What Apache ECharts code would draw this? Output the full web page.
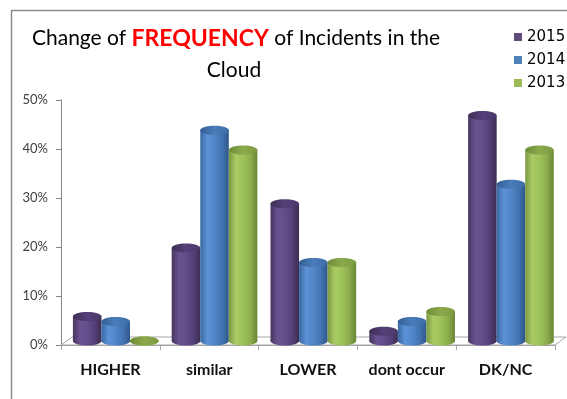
<!DOCTYPE html>
<html>
<head>
<meta charset="utf-8">
<script src="https://cdn.jsdelivr.net/npm/echarts@6/dist/echarts.min.js"></script>
<style>
  html, body { margin: 0; padding: 0; background: #fff; }
  #chart { width: 567px; height: 399px; }
</style>
</head>
<body>
<div id="chart"></div>
<script>
// Share of answers per category (percent)
const categories = ['HIGHER', 'similar', 'LOWER', 'dont occur', 'DK/NC'];
const years = ['2015', '2014', '2013'];
const values2015 = [5, 19, 28, 2, 46];
const values2014 = [4, 43, 16, 4, 32];
const values2013 = [0, 39, 16, 6, 39];
const yTicks = [0, 10, 20, 30, 40, 50];

const seriesValues = [values2015, values2014, values2013];

// Flat colour (legend) plus shading stops for the cylinder body and cap
const palette = [
  { flat: '#604A7B',
    body: ['#47355E', '#6A5190', '#664D8A', '#55407A', '#3C2C50'],
    cap:  ['#3E2E54', '#55407A', '#4A3869'] },
  { flat: '#4F81BD',
    body: ['#3A67A2', '#5C92D6', '#5286C8', '#4374B3', '#30588A'],
    cap:  ['#345E93', '#4A7DBB', '#3D6CA6'] },
  { flat: '#9BBB59',
    body: ['#7A9842', '#A8CC63', '#9EC25A', '#8CAF4D', '#6A8536'],
    cap:  ['#6E8A39', '#8BAA4B', '#7D9A42'] }
];

function hGrad(stops) {
  const n = stops.length - 1;
  return new echarts.graphic.LinearGradient(0, 0, 1, 0,
    stops.map((c, i) => ({ offset: i / n, color: c })));
}

// Oblique depth of the floor (px)
const DEPTH_X = 11, DEPTH_Y = 8;

function cylinderRenderer(k) {
  return function (params, api) {
    const cat = api.value(0);
    const val = api.value(1);
    const bandW = api.size([1, 0])[0];
    const base = api.coord([cat, 0]);
    const top = api.coord([cat, val]);
    const w = bandW * 0.289;
    const cx = base[0] + bandW * (0.054 + (k - 1) * 0.289);
    const yBase = base[1] - DEPTH_Y / 2;
    const yTop = top[1] - DEPTH_Y / 2;
    const ry = 4.5;
    const p = palette[k];
    const body = hGrad(p.body);
    return {
      type: 'group',
      children: [
        { type: 'ellipse', shape: { cx: cx, cy: yBase, rx: w / 2, ry: ry },
          style: { fill: body } },
        { type: 'rect', shape: { x: cx - w / 2, y: yTop, width: w, height: Math.max(0, yBase - yTop) },
          style: { fill: body } },
        { type: 'ellipse', shape: { cx: cx, cy: yTop, rx: w / 2, ry: ry },
          style: { fill: hGrad(p.cap) } }
      ]
    };
  };
}

function floorRenderer(params, api) {
  const bandW = api.size([1, 0])[0];
  const first = api.coord([0, 0]);
  const last = api.coord([categories.length - 1, 0]);
  const x0 = first[0] - bandW / 2;
  const x1 = last[0] + bandW / 2;
  const y = first[1];
  return {
    type: 'polygon',
    shape: { points: [[x0, y], [x1, y], [x1 + DEPTH_X, y - DEPTH_Y], [x0 + DEPTH_X, y - DEPTH_Y]] },
    style: { fill: '#FFFFFF', stroke: '#A6A6A6', lineWidth: 1 },
    silent: true
  };
}

const chart = echarts.init(document.getElementById('chart'), null, { renderer: 'canvas' });

const series = [{
  type: 'custom',
  name: 'floor',
  renderItem: floorRenderer,
  data: [[0, 0]],
  z: 1,
  silent: true
}].concat(years.map((y, k) => ({
  type: 'custom',
  name: y,
  renderItem: cylinderRenderer(k),
  itemStyle: { color: palette[k].flat },
  encode: { x: 0, y: 1 },
  data: seriesValues[k].map((v, i) => [i, v]),
  z: 2 + k
})));

chart.setOption({
  backgroundColor: '#FFFFFF',
  animation: false,
  graphic: [{
    type: 'rect',
    shape: { x: 11.5, y: 10.5, width: 620, height: 450 },
    style: { fill: 'none', stroke: '#8C8C8C', lineWidth: 1.5 },
    silent: true,
    z: -1
  }],
  title: [{
    text: '{n|Change of }{r|FREQUENCY}{n| of Incidents in the}',
    left: 231,
    top: 22,
    textAlign: 'center',
    textStyle: {
      fontWeight: 'normal',
      rich: {
        n: { fontFamily: 'Lato', fontSize: 21, fontWeight: 'normal', color: '#000000' },
        r: { fontFamily: 'Lato', fontSize: 23, fontWeight: 'bold', color: '#FF0000' }
      }
    }
  }, {
    text: 'Cloud',
    left: 229,
    top: 55,
    textAlign: 'center',
    textStyle: { fontFamily: 'Lato', fontSize: 21, fontWeight: 'normal', color: '#000000' }
  }],
  legend: {
    data: years,
    orient: 'vertical',
    left: 509,
    top: 24,
    itemWidth: 8,
    itemHeight: 8,
    itemGap: 7,
    icon: 'rect',
    textStyle: { fontFamily: 'DejaVu Sans', fontSize: 15, color: '#000000', lineHeight: 16 }
  },
  grid: { left: 61, right: 12, top: 100, bottom: 54, containLabel: false },
  xAxis: {
    type: 'category',
    data: categories,
    boundaryGap: true,
    axisLine: { show: true, lineStyle: { color: '#A6A6A6', width: 1 } },
    axisTick: { show: true, length: 5, lineStyle: { color: '#A6A6A6' } },
    axisLabel: {
      interval: 0,
      margin: 17,
      fontFamily: 'Lato',
      fontSize: 16,
      fontWeight: 'bold',
      color: '#111111'
    },
    splitLine: { show: false }
  },
  yAxis: {
    type: 'value',
    min: yTicks[0],
    max: yTicks[yTicks.length - 1],
    interval: yTicks[1] - yTicks[0],
    axisLine: { show: true, lineStyle: { color: '#868686', width: 1 } },
    axisTick: { show: true, length: 5, lineStyle: { color: '#868686' } },
    axisLabel: {
      formatter: v => v + '%',
      margin: 13,
      fontFamily: 'Lato',
      fontSize: 13,
      color: '#404040'
    },
    splitLine: { show: false }
  },
  series: series
});
</script>
</body>
</html>
